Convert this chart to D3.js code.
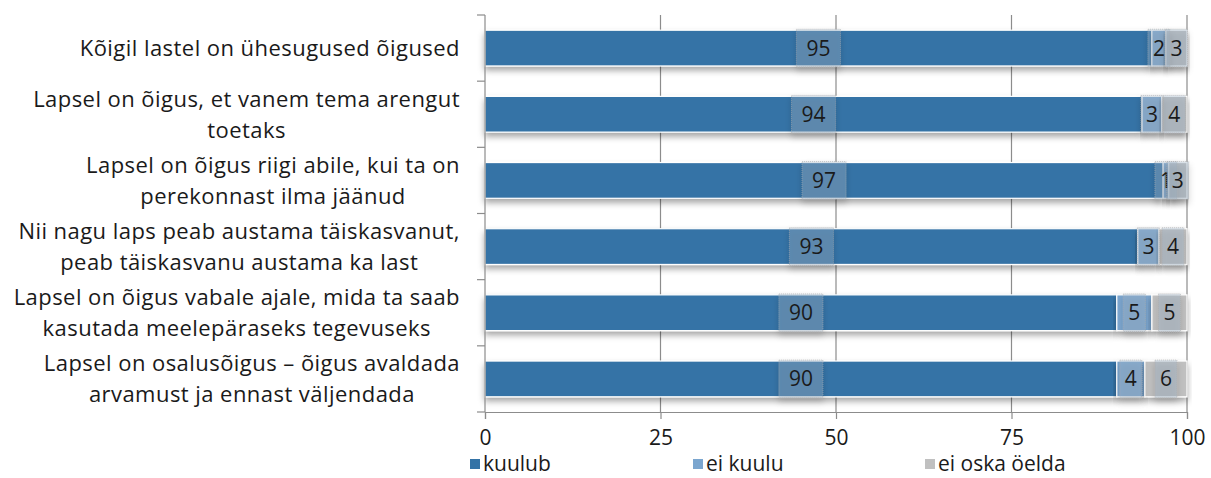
<!DOCTYPE html>
<html>
<head>
<meta charset="utf-8">
<script src="https://cdn.jsdelivr.net/npm/d3@7"></script>
<style>
  body { margin: 0; background: #fff; }
  text { font-family: "Open Sans", "Noto Sans", sans-serif; fill: #1a1a1a; }
</style>
</head>
<body>
<div id="chart"></div>
<script>
// categories, top to bottom (each label already split into lines)
var categories = [
  ["Kõigil lastel on ühesugused õigused"],
  ["Lapsel on õigus, et vanem tema arengut", "toetaks"],
  ["Lapsel on õigus riigi abile, kui ta on", "perekonnast ilma jäänud"],
  ["Nii nagu laps peab austama täiskasvanut,", "peab täiskasvanu austama ka last"],
  ["Lapsel on õigus vabale ajale, mida ta saab", "kasutada meelepäraseks tegevuseks"],
  ["Lapsel on osalusõigus – õigus avaldada", "arvamust ja ennast väljendada"]
];
var seriesNames = ["kuulub", "ei kuulu", "ei oska öelda"];
var kuulub   = [95, 93.6, 96.6, 93, 90, 90];
var eiKuulu  = [2, 2.8, 0.8, 3, 5, 4];
var eiOska   = [3, 3.6, 2.6, 4, 5, 6];
var xTicks = [0, 25, 50, 75, 100];

var colors = ["#3473a6", "#7ba6cf", "#c0c0c0"];

var width = 1211, height = 478;
var margin = {top: 15, right: 24, bottom: 66, left: 485};
var plotW = width - margin.left - margin.right;
var plotH = height - margin.top - margin.bottom;

var rows = categories.map(function (c, i) {
  return {lines: c, values: [kuulub[i], eiKuulu[i], eiOska[i]]};
});

var x = d3.scaleLinear().domain([0, 100]).range([0, plotW]);
var y = d3.scaleBand().domain(d3.range(rows.length)).range([0, plotH]).paddingInner(0.46).paddingOuter(0.23);
var step = plotH / rows.length;

var svg = d3.select("#chart").append("svg")
  .attr("width", width)
  .attr("height", height);

var defs = svg.append("defs");
var sh = defs.append("filter").attr("id", "shadow").attr("x", "-10%").attr("y", "-20%").attr("width", "120%").attr("height", "160%");
sh.append("feDropShadow").attr("dx", 0).attr("dy", 4).attr("stdDeviation", 3).attr("flood-color", "#000").attr("flood-opacity", 0.35);
var sh2 = defs.append("filter").attr("id", "lblshadow").attr("x", "-30%").attr("y", "-30%").attr("width", "160%").attr("height", "180%");
sh2.append("feDropShadow").attr("dx", 0).attr("dy", 4).attr("stdDeviation", 3).attr("flood-color", "#000").attr("flood-opacity", 0.4);

var g = svg.append("g")
  .attr("transform", "translate(" + margin.left + "," + margin.top + ")");

// gridlines
g.append("g").selectAll("line")
  .data(xTicks.filter(function (d) { return d > 0; }))
  .enter().append("line")
  .attr("x1", function (d) { return x(d); })
  .attr("x2", function (d) { return x(d); })
  .attr("y1", 0).attr("y2", plotH)
  .attr("stroke", "#8c8c8c").attr("stroke-width", 1.2);

// bars
var barG = g.append("g").selectAll("g")
  .data(rows)
  .enter().append("g")
  .attr("transform", function (d, i) { return "translate(0," + y(i) + ")"; });

barG.each(function (d) {
  var acc = 0;
  var segs = d.values.map(function (v, k) {
    var s = {x0: acc, x1: acc + v, v: v, k: k};
    acc += v;
    return s;
  });
  d.segs = segs;
  var sel = d3.select(this);
  sel.selectAll("rect.seg")
    .data(segs)
    .enter().append("rect")
    .attr("class", "seg")
    .attr("x", function (s) { return x(s.x0); })
    .attr("width", function (s) { return x(s.x1) - x(s.x0); })
    .attr("y", 0)
    .attr("height", y.bandwidth())
    .attr("fill", function (s) { return colors[s.k]; })
    .attr("stroke", "#fff").attr("stroke-width", 1.2)
    .attr("filter", "url(#shadow)");
});

// value labels
barG.each(function (d) {
  var sel = d3.select(this);
  var lbl = sel.selectAll("g.lbl")
    .data(d.segs)
    .enter().append("g")
    .attr("class", "lbl")
    .attr("transform", function (s) { return "translate(" + x((s.x0 + s.x1) / 2) + "," + (y.bandwidth() / 2) + ")"; });
  lbl.append("rect")
    .attr("x", function (s) { return s.k === 0 ? -22 : -11; })
    .attr("width", function (s) { return s.k === 0 ? 44 : 22; })
    .attr("y", -y.bandwidth() / 2 - 1)
    .attr("height", y.bandwidth() + 2)
    .attr("fill", "rgba(160,180,200,0.35)")
    .attr("stroke", "rgba(170,170,170,0.6)")
    .attr("stroke-dasharray", "1,1")
    .attr("filter", "url(#lblshadow)");
  lbl.append("text")
    .attr("text-anchor", "middle")
    .attr("dy", "0.36em")
    .style("font-size", "21px")
    .text(function (s) { return Math.round(s.v); });
});

// left axis line and category separators
g.append("line")
  .attr("x1", 0).attr("x2", 0).attr("y1", 0).attr("y2", plotH)
  .attr("stroke", "#8c8c8c").attr("stroke-width", 1.2);
g.append("g").selectAll("line")
  .data(d3.range(rows.length + 1))
  .enter().append("line")
  .attr("x1", -8).attr("x2", 0)
  .attr("y1", function (i) { return i * step; })
  .attr("y2", function (i) { return i * step; })
  .attr("stroke", "#8c8c8c").attr("stroke-width", 1.2);

// category labels
var catG = g.append("g").selectAll("text")
  .data(rows)
  .enter().append("text")
  .style("font-size", "22px")
  .style("letter-spacing", "0.45px")
  .attr("text-anchor", "middle");
catG.each(function (d, i) {
  var t = d3.select(this);
  var cy = y(i) + y.bandwidth() / 2;
  var lh = 31;
  var n = d.lines.length;
  d.lines.forEach(function (line, j) {
    t.append("tspan")
      .attr("x", 0)
      .attr("y", cy + (j - (n - 1) / 2) * lh)
      .attr("dy", "0.36em")
      .text(line);
  });
  // right-align block, centre lines within it
  var w = this.getBBox().width;
  t.selectAll("tspan").attr("x", -25 - w / 2);
});

// x axis
var xAxis = d3.axisBottom(x).tickValues(xTicks).tickSize(7).tickPadding(11);
var ax = g.append("g")
  .attr("transform", "translate(0," + plotH + ")")
  .call(xAxis);
ax.select(".domain").attr("stroke", "#8c8c8c").attr("stroke-width", 1.2);
ax.selectAll(".tick line").attr("stroke", "#8c8c8c").attr("stroke-width", 1.2);
ax.selectAll(".tick text").style("font-size", "21px").style("font-family", "'Open Sans', sans-serif").attr("fill", "#1a1a1a");

// legend
var legendX = [470, 693, 925];
var leg = svg.append("g").selectAll("g")
  .data(seriesNames)
  .enter().append("g")
  .attr("transform", function (d, i) { return "translate(" + legendX[i] + ",463)"; });
leg.append("rect")
  .attr("x", 0).attr("y", -4).attr("width", 10).attr("height", 10)
  .attr("fill", function (d, i) { return colors[i]; });
leg.append("text")
  .attr("x", 13)
  .attr("dy", "0.36em")
  .style("font-size", "21px")
  .text(function (d) { return d; });
</script>
</body>
</html>
